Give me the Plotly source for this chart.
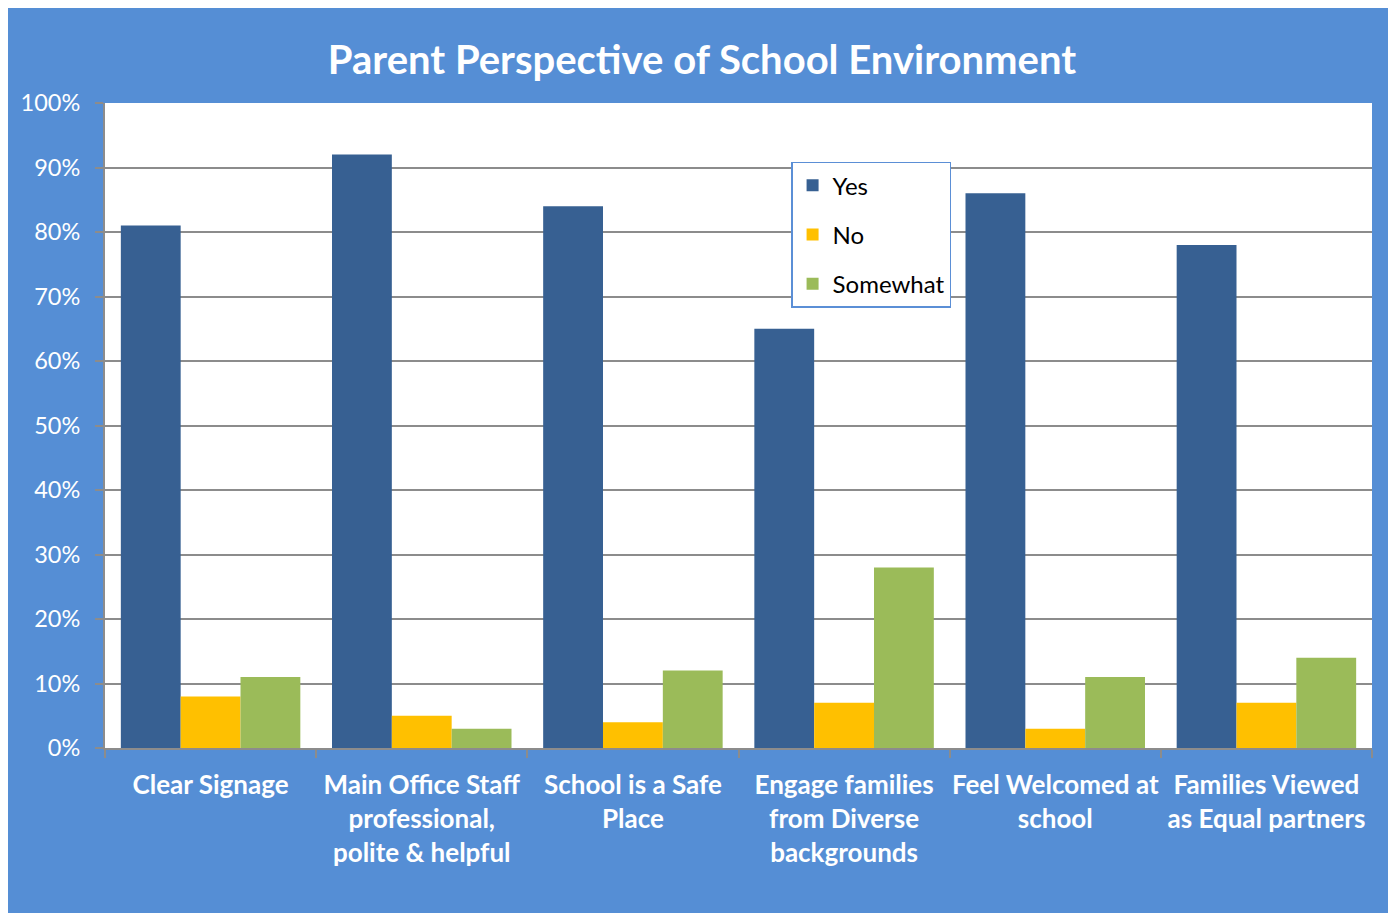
import plotly.graph_objects as go

# survey categories (x axis)
categories = [
    "Clear Signage",
    "Main Office Staff<br>professional,<br>polite & helpful",
    "School is a Safe<br>Place",
    "Engage families<br>from Diverse<br>backgrounds",
    "Feel Welcomed at<br>school",
    "Families Viewed<br>as Equal partners",
]

# share of answers per category
yes_vals = [0.81, 0.92, 0.84, 0.65, 0.86, 0.78]
no_vals = [0.08, 0.05, 0.04, 0.07, 0.03, 0.07]
somewhat_vals = [0.11, 0.03, 0.12, 0.28, 0.11, 0.14]

series_names = ["Yes", "No", "Somewhat"]
series_colors = ["#376092", "#FFC000", "#9BBB59"]

BG = "#558ED5"
GRID = "#8C8C8C"
FONT = "Lato"

fig = go.Figure()
for name, vals, color in zip(series_names, [yes_vals, no_vals, somewhat_vals], series_colors):
    fig.add_trace(go.Bar(
        name=name,
        x=categories,
        y=vals,
        marker=dict(color=color, line=dict(width=0)),
        legendgroup=name,
    ))

fig.update_layout(
    barmode="group",
    bargap=0.15,
    bargroupgap=0,
    width=1388,
    height=905,
    paper_bgcolor=BG,
    plot_bgcolor="white",
    margin=dict(l=97, r=24, t=95, b=165),
    font=dict(family=FONT, color="white"),
    title=dict(
        text="<b>Parent Perspective of School Environment</b>",
        x=0.5,
        xanchor="center",
        y=0.943,
        yanchor="middle",
        font=dict(size=40, color="white", family=FONT),
    ),
    legend=dict(
        x=0.5415,
        y=0.909,
        xanchor="left",
        yanchor="top",
        bgcolor="white",
        bordercolor="#5B8FD6",
        borderwidth=1.5,
        font=dict(size=24, color="black", family=FONT),
        tracegroupgap=15,
        traceorder="grouped",
        itemwidth=30,
    ),
)

fig.update_yaxes(
    range=[0, 1],
    dtick=0.1,
    tickformat=".0%",
    showgrid=True,
    gridcolor=GRID,
    gridwidth=2,
    showline=True,
    linecolor=GRID,
    linewidth=2,
    ticks="outside",
    ticklen=8,
    tickcolor=GRID,
    tickwidth=2,
    tickfont=dict(size=23.5, color="white", family=FONT),
    ticklabelstandoff=10,
    zeroline=False,
)

fig.update_xaxes(
    showline=True,
    linecolor=GRID,
    linewidth=2,
    ticks="outside",
    tickson="boundaries",
    ticklen=8,
    tickcolor=GRID,
    tickwidth=2,
    tickfont=dict(size=26, color="white", family=FONT, weight="bold"),
    ticklabelstandoff=13,
    tickangle=0,
    showgrid=False,
)

fig.write_html("out.html")
